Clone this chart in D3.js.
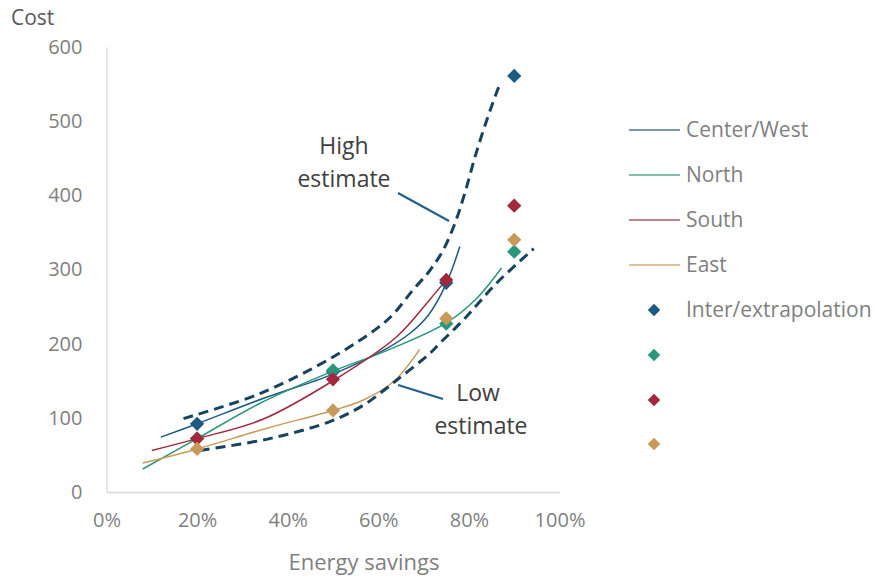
<!DOCTYPE html>
<html>
<head>
<meta charset="utf-8">
<script src="https://cdn.jsdelivr.net/npm/d3@7"></script>
<style>
  html, body { margin: 0; padding: 0; background: #ffffff; }
  svg { display: block; }
  text { font-family: "Open Sans", "Noto Sans", sans-serif; }
</style>
</head>
<body>
<svg id="chart" width="875" height="578"></svg>
<script>
// Axis ticks
const xTicks = [0, 0.2, 0.4, 0.6, 0.8, 1.0];
const yTicks = [0, 100, 200, 300, 400, 500, 600];

// Regions and their colours
const regions = ["Center/West", "North", "South", "East"];
const regionColors = ["#1d5a82", "#2a967a", "#a3283b", "#c79a5a"];

// Inter/extrapolated points (energy savings share -> cost)
const markerSavings = [0.2, 0.5, 0.75, 0.9];
const markerCenterWest = [92, 162, 282, 561];
const markerNorth = [72, 164, 227, 324];
const markerSouth = [72, 152, 286, 386];
const markerEast = [58, 110, 234, 340];

// Smoothed regional cost curves: [energy savings, cost]
const curveCenterWest = [[0.12, 74], [0.20, 92], [0.35, 127], [0.50, 159], [0.62, 194], [0.67, 214], [0.71, 238], [0.75, 281], [0.78, 331]];
const curveNorth = [[0.08, 31], [0.20, 72], [0.34, 120], [0.50, 163], [0.62, 191], [0.75, 228], [0.817, 261], [0.872, 302]];
const curveSouth = [[0.10, 56], [0.20, 72], [0.345, 98], [0.50, 150], [0.64, 209], [0.713, 259], [0.75, 286]];
const curveEast = [[0.08, 39], [0.20, 58], [0.354, 86], [0.50, 110], [0.567, 124], [0.634, 149], [0.691, 192]];

// Envelope estimates
const highEstimate = [[0.17, 99], [0.34, 133], [0.50, 182], [0.60, 222], [0.632, 239], [0.676, 272], [0.713, 298], [0.743, 326], [0.769, 362], [0.791, 403], [0.816, 457], [0.842, 506], [0.862, 540], [0.87, 552]];
const lowEstimate = [[0.206, 56], [0.36, 72], [0.493, 95], [0.567, 117], [0.641, 151], [0.714, 187], [0.735, 200], [0.794, 236], [0.86, 281], [0.943, 328]];

const markerSeries = [markerCenterWest, markerNorth, markerSouth, markerEast];
const curveSeries = [curveCenterWest, curveNorth, curveSouth, curveEast];

const svg = d3.select("#chart");
const x = d3.scaleLinear().domain([0, 1]).range([106.5, 559.5]);
const y = d3.scaleLinear().domain([0, 600]).range([492, 47]);

const axisColor = "#d9d9d9";
const labelColor = "#7f7f7f";

// Axes: plain lines with labels only
const yAxis = d3.axisLeft(y).tickValues(yTicks).tickSize(0).tickPadding(24);
const gy = svg.append("g").attr("transform", `translate(${x(0)},0)`).call(yAxis);
gy.select(".domain").attr("stroke", axisColor).attr("stroke-width", 1.3);
gy.selectAll("text").attr("fill", labelColor).attr("font-size", 20)
  .style("font-family", '"Open Sans", sans-serif');

const xAxis = d3.axisBottom(x).tickValues(xTicks).tickSize(0).tickPadding(21)
  .tickFormat(d3.format(".0%"));
const gx = svg.append("g").attr("transform", `translate(0,${y(0)})`).call(xAxis);
gx.select(".domain").attr("stroke", axisColor).attr("stroke-width", 1.3);
gx.selectAll("text").attr("fill", labelColor).attr("font-size", 20)
  .style("font-family", '"Open Sans", sans-serif');

// Axis titles
svg.append("text").attr("x", 11).attr("y", 25).attr("fill", "#595959")
  .attr("font-size", 21).text("Cost");
svg.append("text").attr("x", 364).attr("y", 570).attr("text-anchor", "middle")
  .attr("fill", labelColor).attr("font-size", 22).text("Energy savings");

const line = d3.line()
  .x(d => x(d[0])).y(d => y(d[1]))
  .curve(d3.curveCatmullRom.alpha(0.5));

// Regional curves
curveSeries.forEach((pts, i) => {
  svg.append("path").datum(pts).attr("d", line)
    .attr("fill", "none").attr("stroke", regionColors[i]).attr("stroke-width", 1.5);
});

// High / low envelopes
[highEstimate, lowEstimate].forEach(pts => {
  svg.append("path").datum(pts).attr("d", line)
    .attr("fill", "none").attr("stroke", "#17435f").attr("stroke-width", 3)
    .attr("stroke-dasharray", "10,6");
});

// Inter/extrapolated markers
const diamond = d3.symbol().type(d3.symbolDiamond2).size(130);
markerSeries.forEach((vals, i) => {
  svg.append("g").selectAll("path").data(vals).join("path")
    .attr("d", diamond)
    .attr("transform", (d, j) => `translate(${x(markerSavings[j])},${y(d)})`)
    .attr("fill", regionColors[i]);
});

// Annotations
const annColor = "#404040";
const ann = svg.append("g").attr("fill", annColor).attr("font-size", 23).attr("text-anchor", "middle");
ann.append("text").attr("x", 344).attr("y", 154).text("High");
ann.append("text").attr("x", 344).attr("y", 187).text("estimate");
ann.append("text").attr("x", 478).attr("y", 401).text("Low");
ann.append("text").attr("x", 481).attr("y", 434).text("estimate");

svg.append("line").attr("x1", 398).attr("y1", 193).attr("x2", 449).attr("y2", 221)
  .attr("stroke", "#1f5f8a").attr("stroke-width", 2);
svg.append("line").attr("x1", 398).attr("y1", 385).attr("x2", 443).attr("y2", 399)
  .attr("stroke", "#1f5f8a").attr("stroke-width", 2);

// Legend
const legend = svg.append("g");
const lineRows = [130, 175, 220, 265];
regions.forEach((name, i) => {
  legend.append("line").attr("x1", 629).attr("x2", 680)
    .attr("y1", lineRows[i]).attr("y2", lineRows[i])
    .attr("stroke", regionColors[i]).attr("stroke-width", 1.5).attr("opacity", 0.8);
  legend.append("text").attr("x", 686).attr("y", lineRows[i] + 7)
    .attr("fill", labelColor).attr("font-size", 21).text(name);
});
const markerRows = [310, 355, 400, 444];
const legendDiamond = d3.symbol().type(d3.symbolDiamond2).size(100);
regionColors.forEach((c, i) => {
  legend.append("path").attr("d", legendDiamond)
    .attr("transform", `translate(654,${markerRows[i]})`).attr("fill", c);
});
legend.append("text").attr("x", 686).attr("y", markerRows[0] + 7)
  .attr("fill", labelColor).attr("font-size", 21).text("Inter/extrapolation");
</script>
</body>
</html>
